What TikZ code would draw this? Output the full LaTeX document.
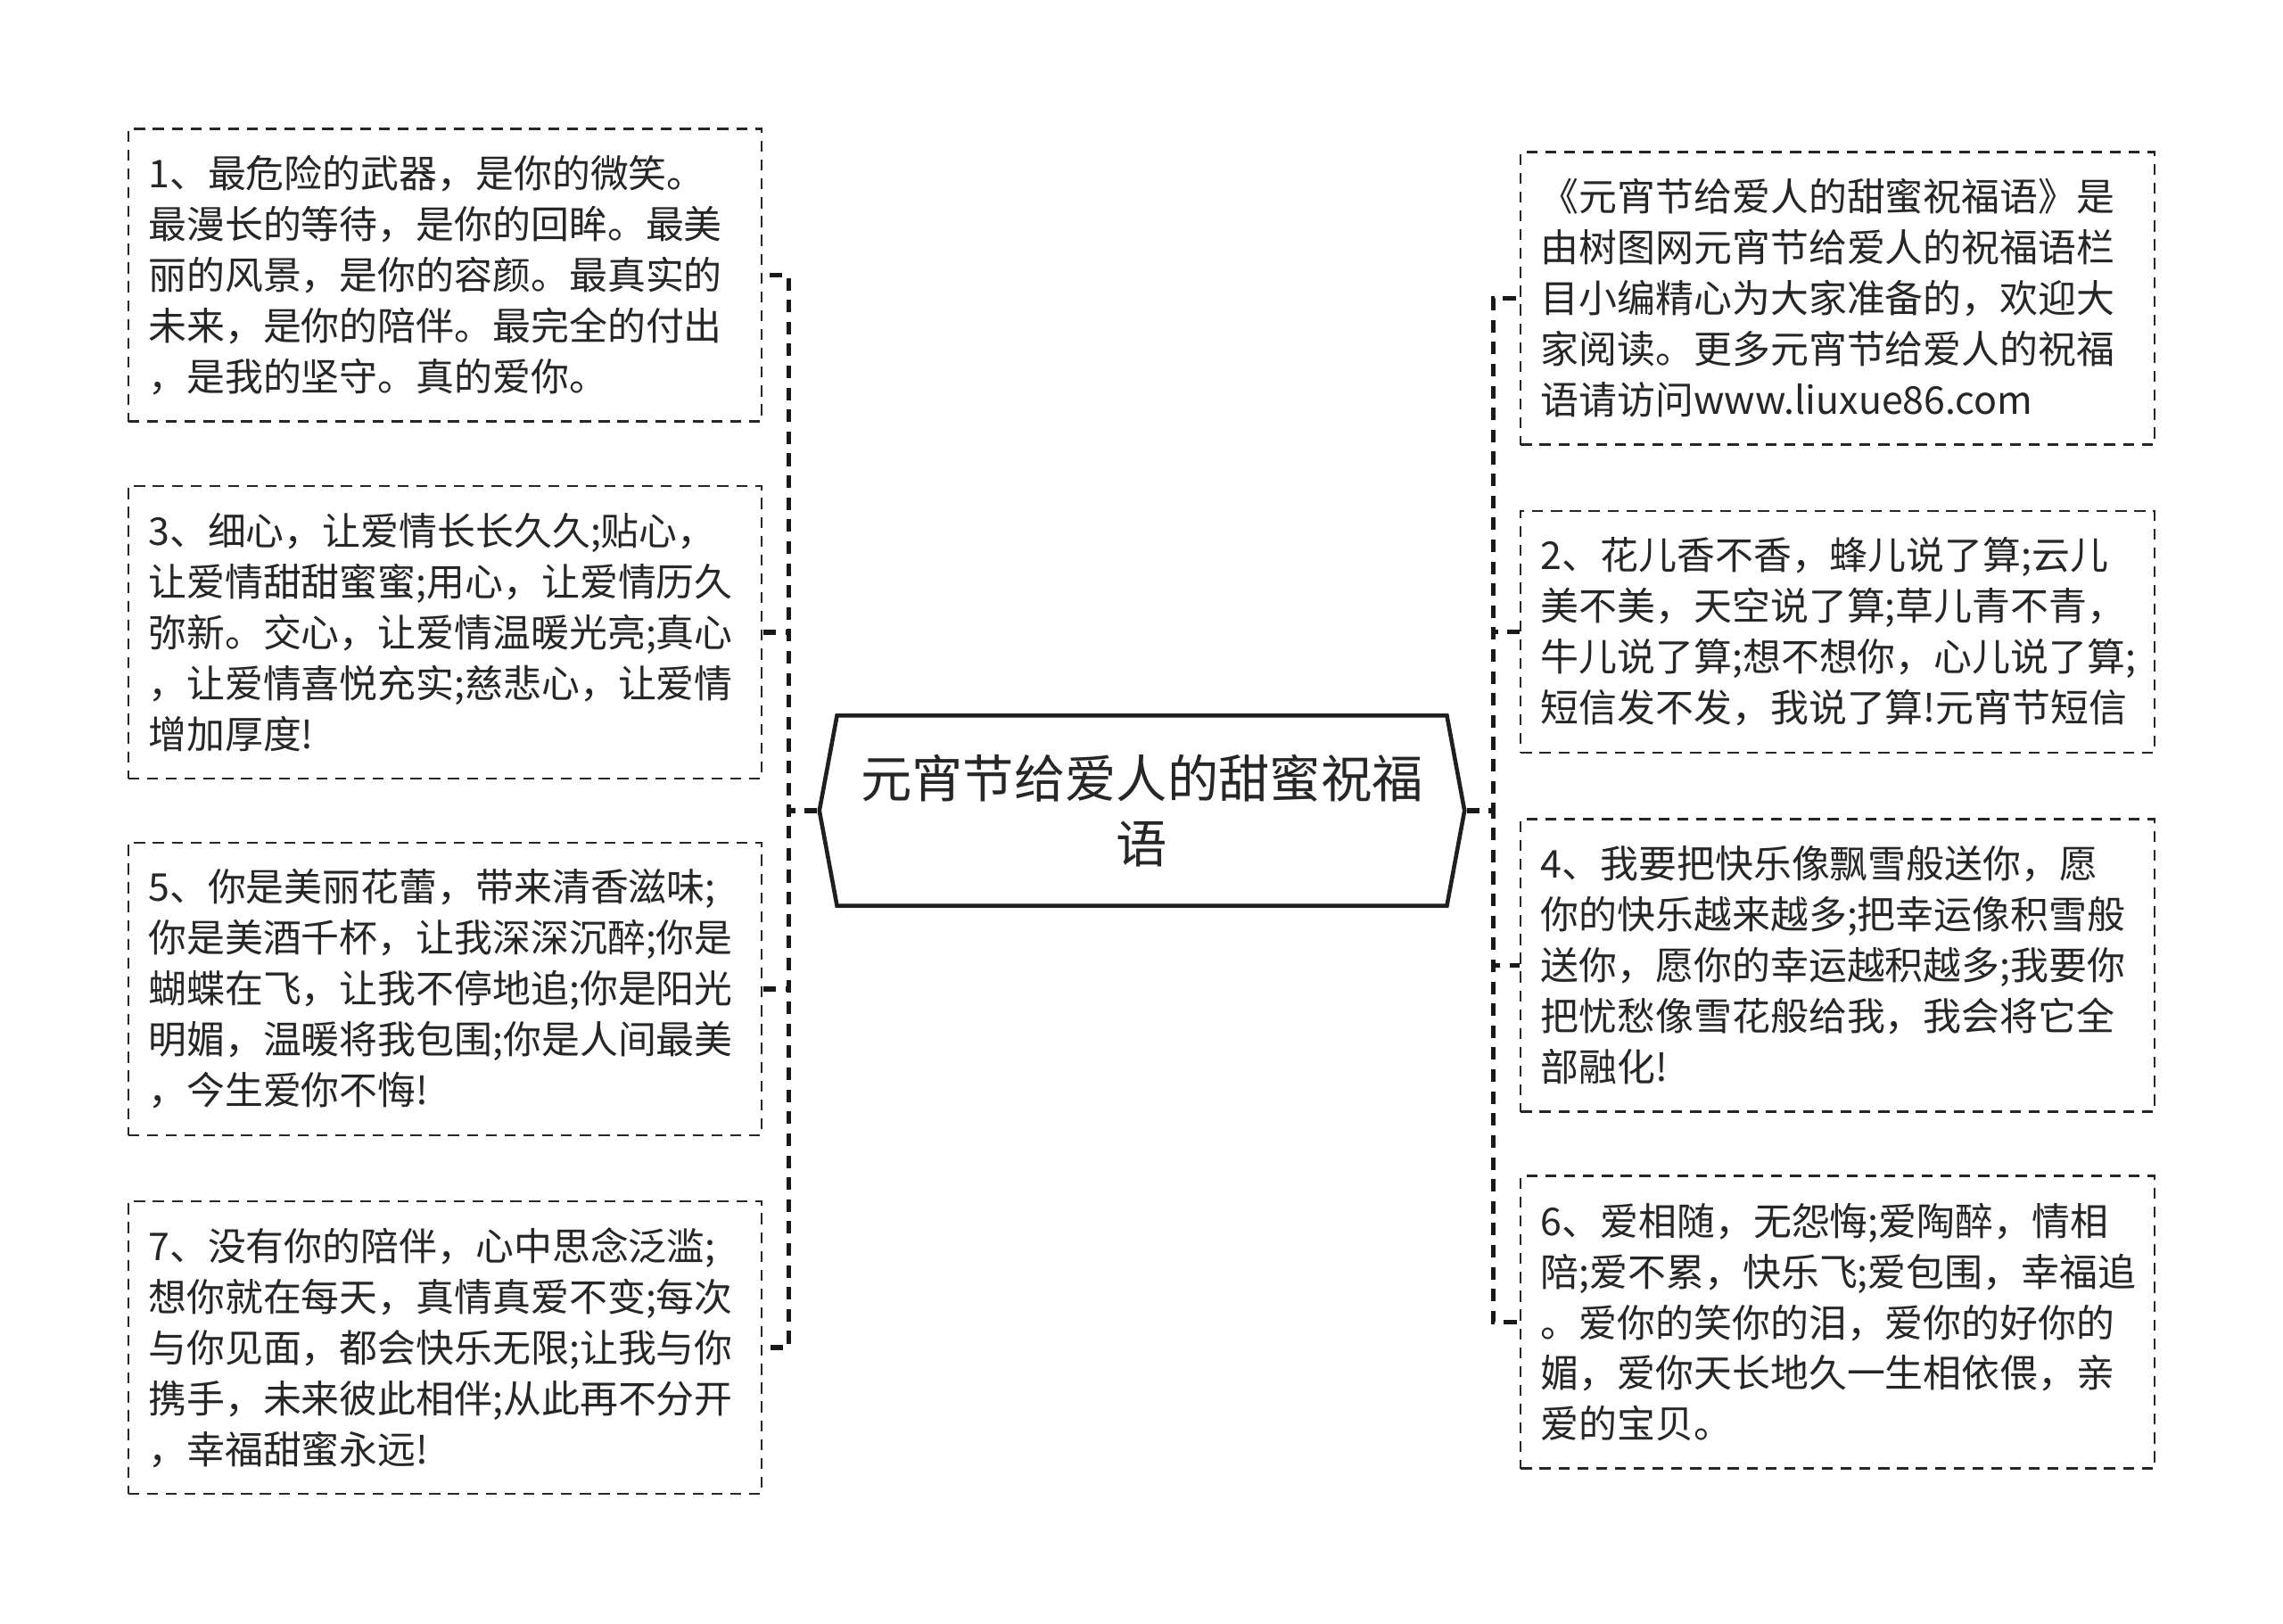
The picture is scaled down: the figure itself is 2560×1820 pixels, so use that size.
\documentclass[tikz,border=0pt]{standalone}
\usepackage{fontspec}
\setmainfont{Noto Sans CJK SC}
\usetikzlibrary{shapes.symbols}

\begin{document}
\begin{tikzpicture}[x=0.01cm, y=-0.01cm,
  txtbox/.style={draw=black!85, line width=0.65pt, dash pattern=on 3.5pt off 2.5pt,
    text=black!85, align=left, text width=6.65cm, inner xsep=0.225cm, inner ysep=0pt,
    minimum height=#1, font=\fontsize{12.2pt}{16.2pt}\selectfont},
  txtbox/.default=3.28cm,
  topic/.style={shape=signal, signal to=west and east, signal pointer angle=159,
    draw=black!88, line width=1.3pt, fill=white, text=black!85, align=center,
    minimum width=7.23cm, minimum height=2.13cm, inner sep=0pt,
    font=\fontsize{16.3pt}{20.8pt}\selectfont},
  link/.style={draw=black!90, line width=1.5pt, dash pattern=on 4pt off 3pt}]

\useasboundingbox[fill=white] (0,0) rectangle (2560,1820);

% 中心主题
\node[topic] (title) at (1280.5,909) {元宵节给爱人的甜蜜祝福\\语};

% 左侧
\node[txtbox] (n1) at (499,308.5) {1、最危险的武器，是你的微笑。\\最漫长的等待，是你的回眸。最美\\丽的风景，是你的容颜。最真实的\\未来，是你的陪伴。最完全的付出\\，是我的坚守。真的爱你。};
\node[txtbox] (n3) at (499,709) {3、细心，让爱情长长久久;贴心，\\让爱情甜甜蜜蜜;用心，让爱情历久\\弥新。交心，让爱情温暖光亮;真心\\，让爱情喜悦充实;慈悲心，让爱情\\增加厚度!};
\node[txtbox] (n5) at (499,1109) {5、你是美丽花蕾，带来清香滋味;\\你是美酒千杯，让我深深沉醉;你是\\蝴蝶在飞，让我不停地追;你是阳光\\明媚，温暖将我包围;你是人间最美\\，今生爱你不悔!};
\node[txtbox] (n7) at (499,1511) {7、没有你的陪伴，心中思念泛滥;\\想你就在每天，真情真爱不变;每次\\与你见面，都会快乐无限;让我与你\\携手，未来彼此相伴;从此再不分开\\，幸福甜蜜永远!};

% 右侧
\node[txtbox] (n0) at (2060.5,334.5) {《元宵节给爱人的甜蜜祝福语》是\\由树图网元宵节给爱人的祝福语栏\\目小编精心为大家准备的，欢迎大\\家阅读。更多元宵节给爱人的祝福\\语请访问www.liuxue86.com};
\node[txtbox=2.71cm] (n2) at (2060.5,708.5) {2、花儿香不香，蜂儿说了算;云儿\\美不美，天空说了算;草儿青不青，\\牛儿说了算;想不想你，心儿说了算;\\短信发不发，我说了算!元宵节短信};
\node[txtbox] (n4) at (2060.5,1082.5) {4、我要把快乐像飘雪般送你，愿\\你的快乐越来越多;把幸运像积雪般\\送你，愿你的幸运越积越多;我要你\\把忧愁像雪花般给我，我会将它全\\部融化!};
\node[txtbox] (n6) at (2060.5,1482.5) {6、爱相随，无怨悔;爱陶醉，情相\\陪;爱不累，快乐飞;爱包围，幸福追\\。爱你的笑你的泪，爱你的好你的\\媚，爱你天长地久一生相依偎，亲\\爱的宝贝。};

% 连线
\draw[link] (title.west) -- ++(-32,0) |- (n1.east);
\draw[link] (title.west) -- ++(-32,0) |- (n3.east);
\draw[link] (title.west) -- ++(-32,0) |- (n5.east);
\draw[link] (title.west) -- ++(-32,0) |- (n7.east);
\draw[link] (title.east) -- ++(30,0) |- (n0.west);
\draw[link] (title.east) -- ++(30,0) |- (n2.west);
\draw[link] (title.east) -- ++(30,0) |- (n4.west);
\draw[link] (title.east) -- ++(30,0) |- (n6.west);

\end{tikzpicture}
\end{document}
